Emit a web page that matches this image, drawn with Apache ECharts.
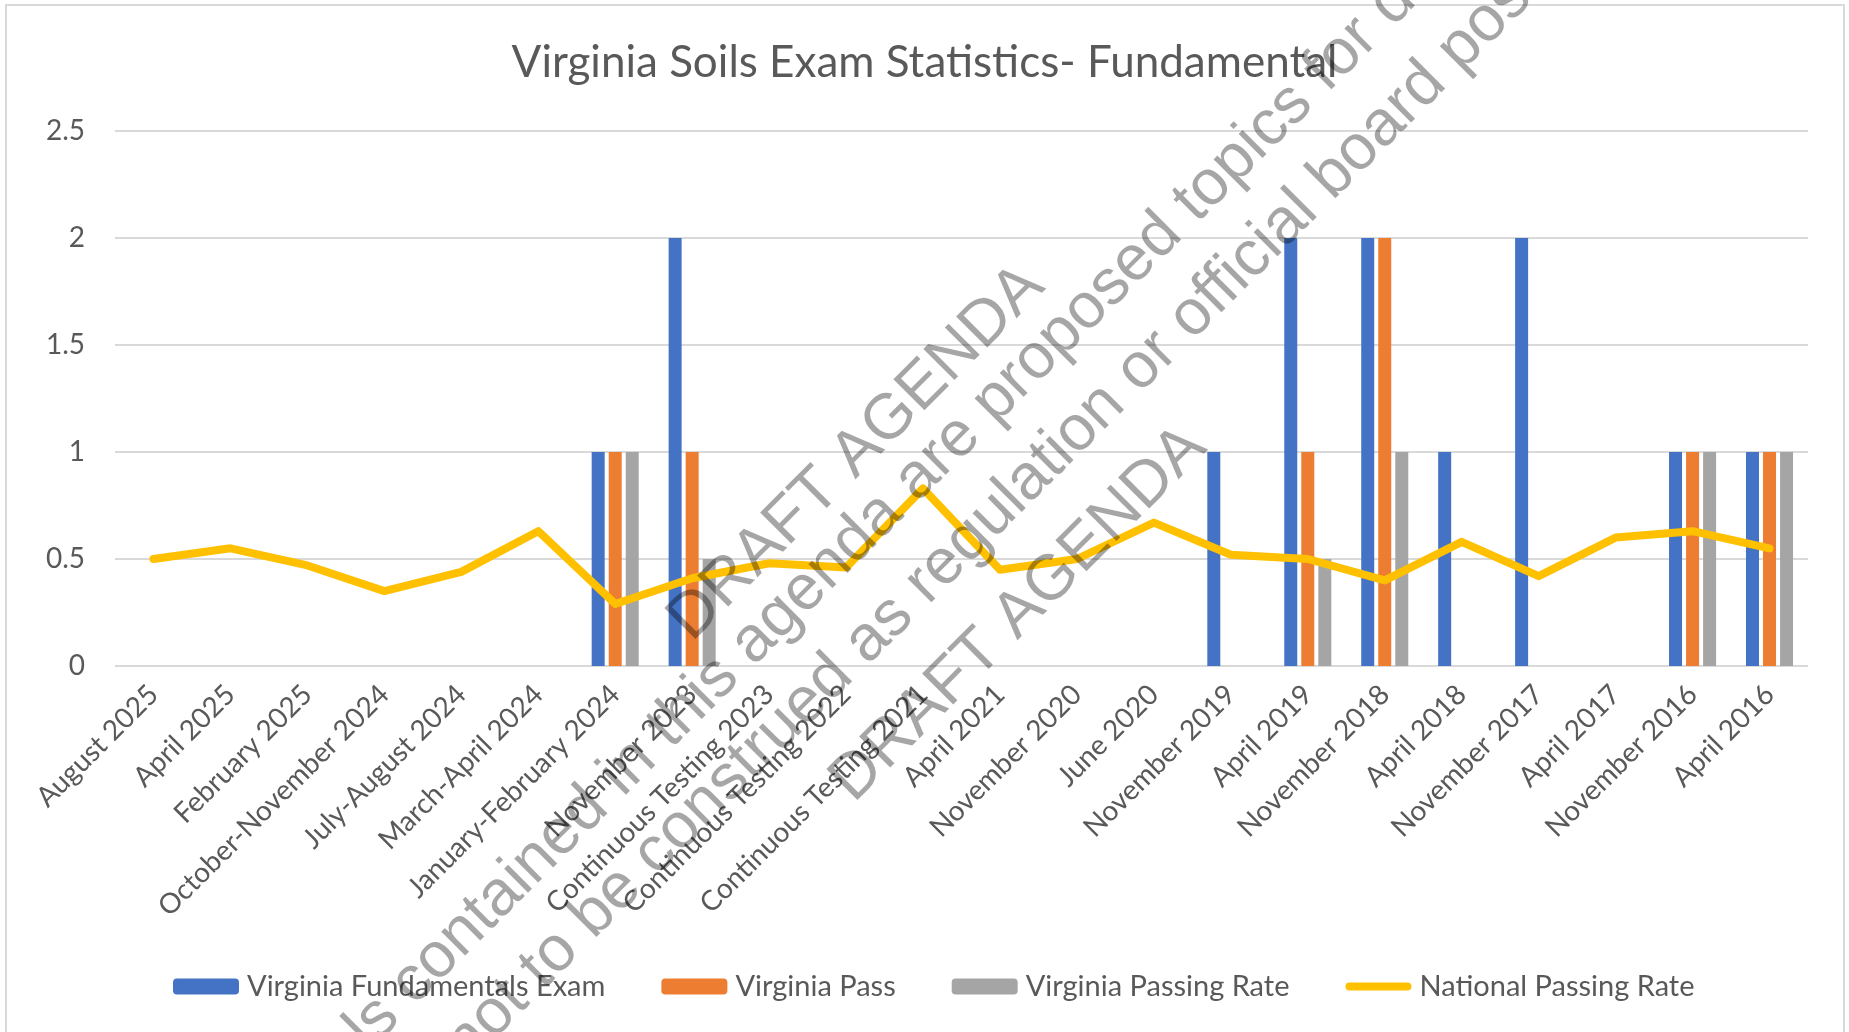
<!DOCTYPE html>
<html>
<head>
<meta charset="utf-8">
<title>Virginia Soils Exam Statistics- Fundamental</title>
<script src="https://cdn.jsdelivr.net/npm/echarts@6/dist/echarts.min.js"></script>
<style>
  html, body { margin: 0; padding: 0; background: #fff; }
  #chart { width: 1849px; height: 1032px; }
</style>
</head>
<body>
<div id="chart"></div>
<script>
// exam sittings, newest first
const categories = [
  "August 2025", "April 2025", "February 2025", "October-November 2024",
  "July-August 2024", "March-April 2024", "January-February 2024", "November 2023",
  "Continuous Testing 2023", "Continuous Testing 2022", "Continuous Testing 2021",
  "April 2021", "November 2020", "June 2020", "November 2019", "April 2019",
  "November 2018", "April 2018", "November 2017", "April 2017", "November 2016", "April 2016"
];
const examTaken   = [0, 0, 0, 0, 0, 0, 1, 2, 0, 0, 0, 0, 0, 0, 1, 2, 2, 1, 2, 0, 1, 1];
const examPassed  = [0, 0, 0, 0, 0, 0, 1, 1, 0, 0, 0, 0, 0, 0, 0, 1, 2, 0, 0, 0, 1, 1];
const passingRate = [0, 0, 0, 0, 0, 0, 1, 0.5, 0, 0, 0, 0, 0, 0, 0, 0.5, 1, 0, 0, 0, 1, 1];
const nationalRate = [0.50, 0.55, 0.47, 0.35, 0.44, 0.63, 0.29, 0.41, 0.48, 0.46, 0.83,
  0.45, 0.50, 0.67, 0.52, 0.50, 0.40, 0.58, 0.42, 0.60, 0.63, 0.55];
const seriesNames = ["Virginia Fundamentals Exam", "Virginia Pass", "Virginia Passing Rate", "National Passing Rate"];

const font = "Lato, 'Noto Sans', sans-serif";
const textColor = "#595959";

// document watermark, drawn over the chart
const wmFont = "64px 'Liberation Sans', Arial, sans-serif";
const wmFill = "rgba(0,0,0,0.35)";
function wm(text, x, y, align) {
  return {
    type: "text",
    x: x + 9,
    y: y + 9,
    rotation: Math.PI / 4,
    silent: true,
    z: 100,
    style: {
      text: text,
      font: wmFont,
      fill: wmFill,
      textAlign: align,
      textVerticalAlign: "bottom",
      align: align,
      verticalAlign: "bottom"
    }
  };
}

const myChart = echarts.init(document.getElementById("chart"));
const option = {
  animation: false,
  backgroundColor: "#fff",
  title: {
    text: "Virginia Soils Exam Statistics- Fundamental",
    left: "center",
    top: 36,
    textStyle: { fontFamily: font, fontSize: 44, fontWeight: "normal", color: textColor }
  },
  legend: {
    data: [
      seriesNames[0],
      seriesNames[1],
      seriesNames[2],
      { name: seriesNames[3], icon: "path://M0,4 A4,4 0 0 1 4,0 L62,0 A4,4 0 0 1 62,8 L4,8 A4,4 0 0 1 0,4 Z" }
    ],
    left: 168,
    top: 967,
    itemWidth: 66,
    itemHeight: 16,
    itemGap: 56,
    textStyle: { fontFamily: font, fontSize: 29, color: textColor, padding: [0, 0, 0, 3] }
  },
  grid: { left: 115, right: 41, top: 131, bottom: 366 },
  xAxis: {
    type: "category",
    data: categories,
    axisLine: { show: false },
    axisTick: { show: false },
    axisLabel: {
      interval: 0,
      rotate: 45,
      margin: 24,
      fontFamily: font,
      fontSize: 28,
      color: textColor
    }
  },
  yAxis: {
    type: "value",
    min: 0,
    max: 2.5,
    interval: 0.5,
    axisLine: { show: false },
    axisTick: { show: false },
    splitLine: { lineStyle: { color: "#d9d9d9", width: 2 } },
    axisLabel: { margin: 30, fontFamily: font, fontSize: 28, color: textColor }
  },
  series: [
    {
      name: seriesNames[0], type: "bar", data: examTaken,
      barWidth: 13, barGap: "31%", itemStyle: { color: "#4472c4" }
    },
    {
      name: seriesNames[1], type: "bar", data: examPassed,
      barWidth: 13, barGap: "31%", itemStyle: { color: "#ed7d31" }
    },
    {
      name: seriesNames[2], type: "bar", data: passingRate,
      barWidth: 13, barGap: "31%", itemStyle: { color: "#a5a5a5" }
    },
    {
      name: seriesNames[3], type: "line", data: nationalRate,
      symbol: "none", z: 5,
      lineStyle: { color: "#ffc000", width: 8, cap: "round", join: "round" },
      itemStyle: { color: "#ffc000" }
    }
  ],
  graphic: [
    {
      type: "rect", silent: true, z: 0,
      shape: { x: 6, y: 5, width: 1838, height: 1100 },
      style: { fill: "none", stroke: "#d9d9d9", lineWidth: 2 }
    },
    wm("DRAFT AGENDA", 693, 644, "left"),
    wm("Materials contained in this", 755 - 12.6, 668 + 12.6, "right"),
    wm("agenda are proposed topics for discussion", 755, 668, "left"),
    wm("and are not to be construed", 869 - 12.6, 667 + 12.6, "right"),
    wm("as regulation or official board position", 869, 667, "left"),
    wm("DRAFT AGENDA", 855, 805, "left")
  ]
};
myChart.setOption(option);
</script>
</body>
</html>
